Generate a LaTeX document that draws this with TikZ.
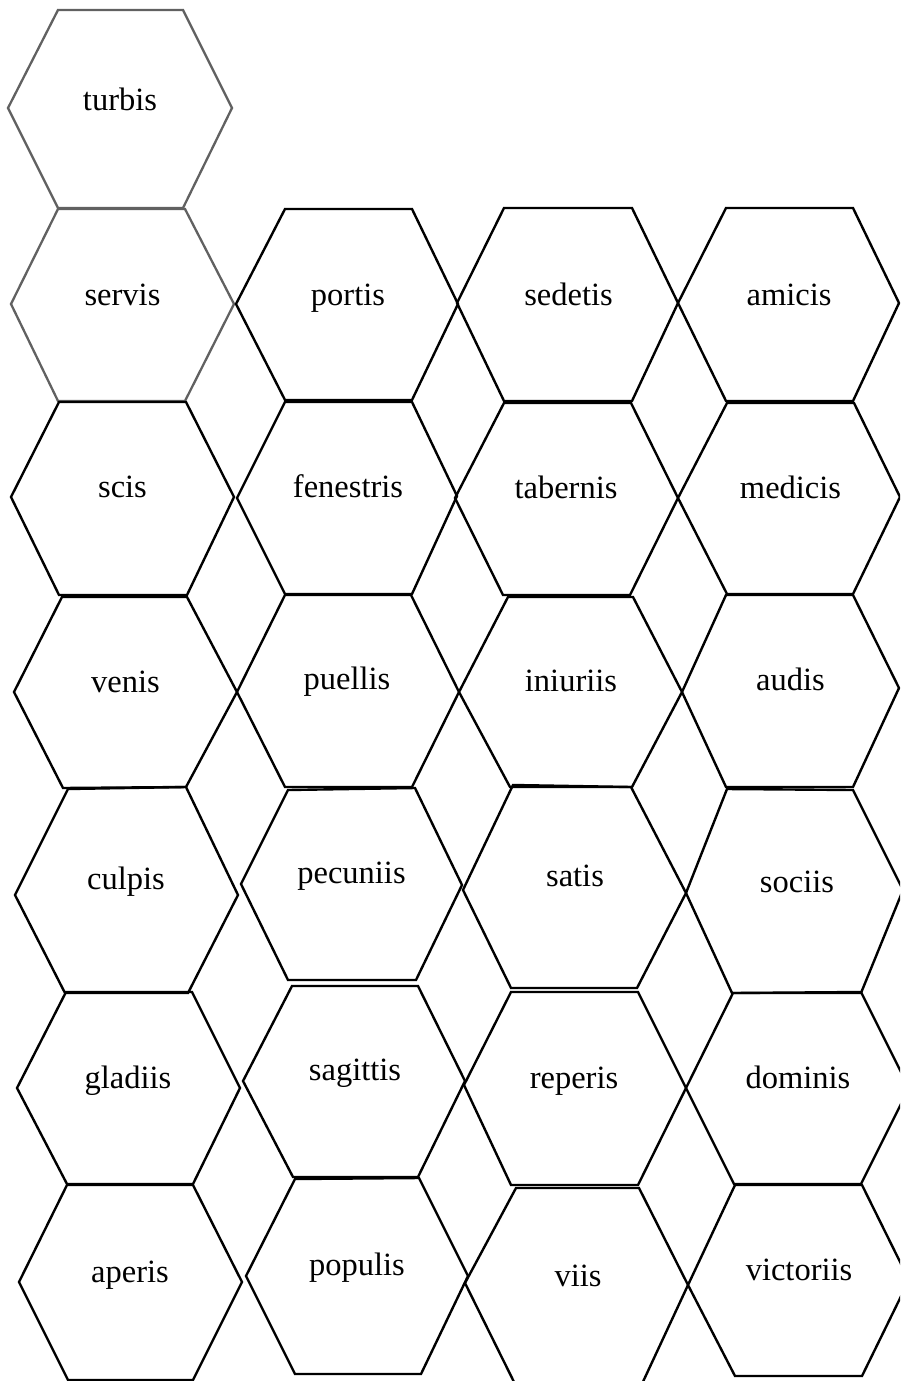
\documentclass[tikz,border=0pt]{standalone}
\usepackage{fontspec}
\setmainfont{Liberation Serif}
\tikzset{
  hexblack/.style={draw=black, line width=2.4pt},
  hexgray/.style={draw=black!62, line width=2.3pt},
  word/.style={anchor=base, inner sep=0pt, font=\fontsize{32.5}{37}\selectfont}
}
\begin{document}
\begin{tikzpicture}[x=1pt,y=-1pt]
\useasboundingbox (0,0) rectangle (900,1381);
\clip (0,0) rectangle (900,1381);
% column 1
\draw[hexgray] (8,108) -- (58,10) -- (183,10) -- (232,108) -- (183,208) -- (58,208) -- cycle;
\draw[hexgray] (11,304) -- (58,209) -- (185,209) -- (234,304) -- (185,401) -- (58,401) -- cycle;
\draw[hexblack] (11,497) -- (59,402) -- (186,402) -- (234,497) -- (187,595) -- (59,595) -- cycle;
\draw[hexblack] (14,692) -- (62,597) -- (187,597) -- (237,692) -- (186,787) -- (63,788) -- cycle;
\draw[hexblack] (15,895) -- (68,789) -- (186,787) -- (238,895) -- (188,993) -- (65,993) -- cycle;
\draw[hexblack] (17,1088) -- (66,992) -- (192,992) -- (240,1088) -- (193,1184) -- (67,1184) -- cycle;
\draw[hexblack] (19,1282) -- (67,1185) -- (193,1185) -- (242,1282) -- (193,1380) -- (68,1380) -- cycle;
% column 2
\draw[hexblack] (236,304) -- (285,209) -- (412,209) -- (458,304) -- (412,400) -- (285,400) -- cycle;
\draw[hexblack] (237,498) -- (285,402) -- (412,402) -- (457,496) -- (412,594) -- (285,594) -- cycle;
\draw[hexblack] (237,692) -- (285,595) -- (411,595) -- (459,692) -- (412,787) -- (285,787) -- cycle;
\draw[hexblack] (241,884) -- (288,790) -- (415,788) -- (462,885) -- (416,980) -- (288,980) -- cycle;
\draw[hexblack] (243,1081) -- (292,986) -- (418,986) -- (465,1081) -- (418,1177) -- (293,1177) -- cycle;
\draw[hexblack] (246,1276) -- (295,1179) -- (419,1178) -- (468,1276) -- (421,1374) -- (295,1374) -- cycle;
% column 3
\draw[hexblack] (457,303) -- (504,208) -- (632,208) -- (678,303) -- (632,401) -- (504,401) -- cycle;
\draw[hexblack] (455,498) -- (504,403) -- (631,403) -- (678,498) -- (630,595) -- (503,595) -- cycle;
\draw[hexblack] (459,692) -- (508,597) -- (633,597) -- (682,692) -- (632,787) -- (510,787) -- cycle;
\draw[hexblack] (463,890) -- (513,785) -- (631,787) -- (686,893) -- (637,988) -- (511,988) -- cycle;
\draw[hexblack] (464,1085) -- (511,992) -- (638,992) -- (686,1088) -- (638,1185) -- (511,1185) -- cycle;
\draw[hexblack] (465,1283) -- (516,1188) -- (639,1188) -- (688,1285) -- (641,1386) -- (516,1386) -- cycle;
% column 4
\draw[hexblack] (678,303) -- (726,208) -- (853,208) -- (899,303) -- (853,401) -- (726,401) -- cycle;
\draw[hexblack] (678,498) -- (727,403) -- (854,403) -- (900,497) -- (853,594) -- (727,594) -- cycle;
\draw[hexblack] (682,692) -- (726,595) -- (853,595) -- (899,688) -- (853,787) -- (726,787) -- cycle;
\draw[hexblack] (686,893) -- (727,789) -- (853,790) -- (903,890) -- (861,993) -- (732,993) -- cycle;
\draw[hexblack] (686,1088) -- (733,993) -- (861,992) -- (909,1088) -- (861,1184) -- (734,1184) -- cycle;
\draw[hexblack] (688,1285) -- (735,1185) -- (862,1185) -- (909,1280) -- (862,1376) -- (735,1376) -- cycle;
% labels
\node[word] (turbis) at (120,110) {turbis};
\node[word] (servis) at (122.5,305) {servis};
\node[word] (scis) at (122.5,497) {scis};
\node[word] (venis) at (125.5,692) {venis};
\node[word] (culpis) at (126,889) {culpis};
\node[word] (gladiis) at (128,1088) {gladiis};
\node[word] (aperis) at (130,1282) {aperis};
\node[word] (portis) at (348,305) {portis};
\node[word] (fenestris) at (348,497) {fenestris};
\node[word] (puellis) at (347,689) {puellis};
\node[word] (pecuniis) at (351.5,883) {pecuniis};
\node[word] (sagittis) at (355,1080) {sagittis};
\node[word] (populis) at (357,1275) {populis};
\node[word] (sedetis) at (568.5,305) {sedetis};
\node[word] (tabernis) at (566,498) {tabernis};
\node[word] (iniuriis) at (571,691) {iniuriis};
\node[word] (satis) at (575,886) {satis};
\node[word] (reperis) at (574,1088) {reperis};
\node[word] (viis) at (578,1286) {viis};
\node[word] (amicis) at (789,305) {amicis};
\node[word] (medicis) at (790.5,498) {medicis};
\node[word] (audis) at (790.5,690) {audis};
\node[word] (sociis) at (797,892) {sociis};
\node[word] (dominis) at (798,1088) {dominis};
\node[word] (victoriis) at (799,1280) {victoriis};
\end{tikzpicture}
\end{document}
